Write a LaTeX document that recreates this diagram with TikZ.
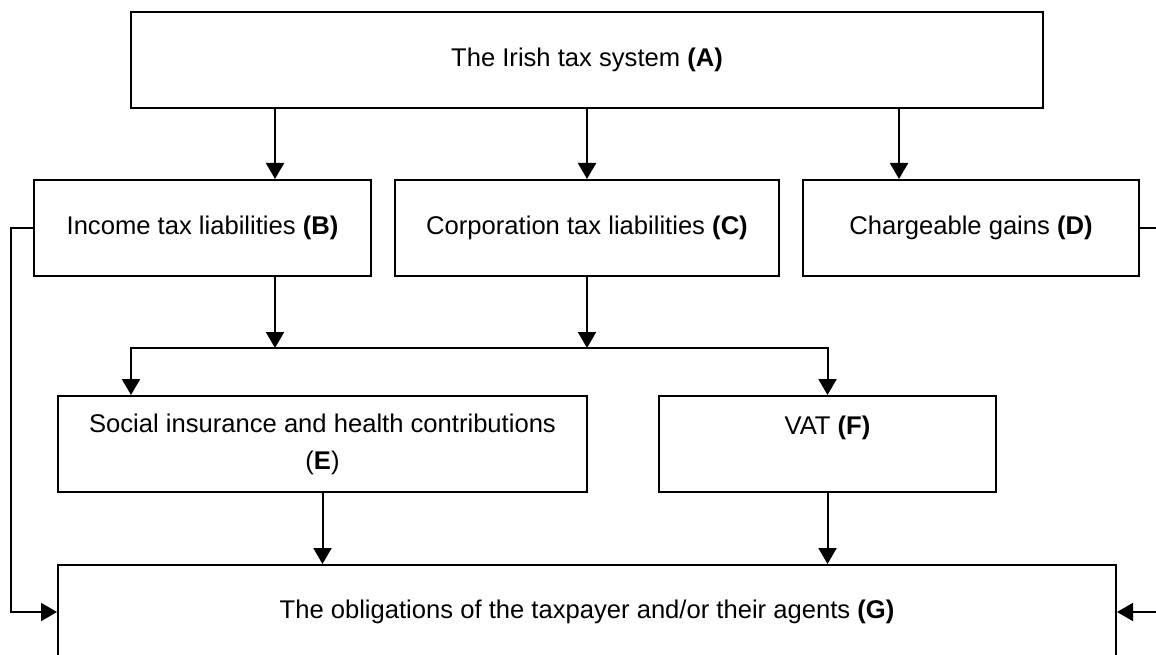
\documentclass[tikz,border=0pt]{standalone}
\usepackage{fontspec}
\setmainfont{Liberation Sans}
\usetikzlibrary{arrows.meta}
\begin{document}
\begin{tikzpicture}[x=1pt,y=-1pt,
  box/.style={draw,line width=2pt,inner sep=0pt,align=center,font=\fontsize{25.6}{37}\selectfont},
  arr/.style={line width=2pt,-{Triangle[length=16pt,width=18pt]}},
  link/.style={line width=2pt}]
\useasboundingbox (0,0) rectangle (1156,655);
\node[box,minimum width=912pt,minimum height=96pt] (A) at (587,60) {\raisebox{-2pt}{The Irish tax system \textbf{(A)}}};
\node[box,minimum width=337pt,minimum height=96pt] (B) at (202.5,228) {Income tax liabilities \textbf{(B)}};
\node[box,minimum width=384pt,minimum height=96pt] (C) at (587,228) {Corporation tax liabilities \textbf{(C)}};
\node[box,minimum width=336pt,minimum height=96pt] (D) at (971,228) {Chargeable gains \textbf{(D)}};
\node[box,minimum width=529pt,minimum height=96pt] (E) at (322.5,444) {Social insurance and health contributions\\(\textbf{E})};
\node[box,minimum width=337pt,minimum height=96pt] (F) at (827.5,444) {VAT \textbf{(F)}\\\mbox{}};
\node[box,minimum width=1058pt,minimum height=94pt] (G) at (587,612) {The obligations of the taxpayer and/or their agents \textbf{(G)}};
\coordinate (jB) at (275,348);
\coordinate (jC) at (587,348);
\coordinate (jE) at (131,348);
\coordinate (jD) at (899,348);
\coordinate (rR) at (1162,228);
\draw[arr] (A.south -| jB) -- (B.north -| jB);
\draw[arr] (A.south -| jC) -- (C.north -| jC);
\draw[arr] (A.south -| jD) -- (D.north -| jD);
\draw[arr] (B.south -| jB) -- (jB);
\draw[arr] (C.south -| jC) -- (jC);
\draw[link] (jB) -- (jC);
\draw[arr] (jB) -| (E.north -| jE);
\draw[arr] (jC) -| (F.north);
\draw[arr] (E.south) -- (G.north -| E.south);
\draw[arr] (F.south) -- (G.north -| F.south);
\draw[arr] (B.west) -- ++(-22,0) |- (G.west);
\draw[arr] (D.east) -- (rR) |- (G.east);
\end{tikzpicture}
\end{document}
